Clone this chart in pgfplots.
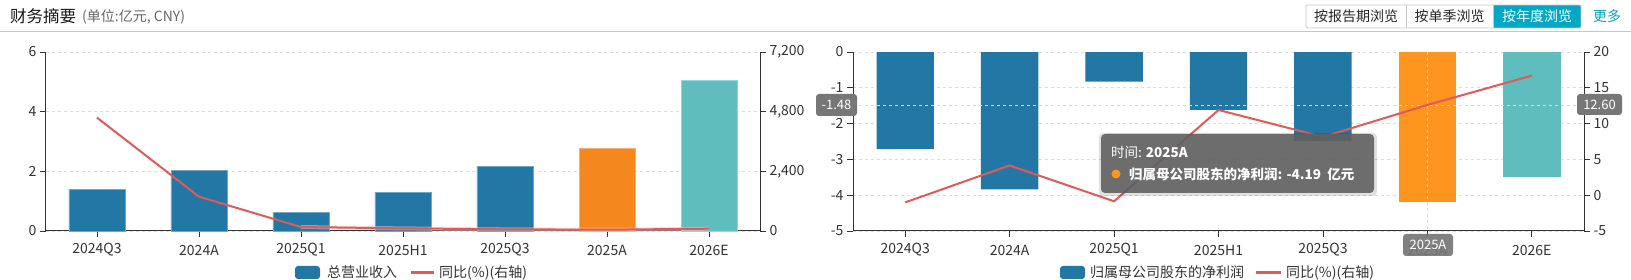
\documentclass[border=0pt]{standalone}
\usepackage{fontspec}
\setmainfont{Noto Sans CJK SC}
\usepackage{pgfplots}
\pgfplotsset{compat=1.18}
\definecolor{barblue}{HTML}{2377A4}
\definecolor{barorange}{HTML}{F5871F}
\definecolor{barorange2}{HTML}{FD951E}
\definecolor{barteal}{HTML}{5FBDBE}
\definecolor{linered}{HTML}{E05A5A}
\definecolor{gridc}{HTML}{DDDDDD}
\definecolor{axisc}{HTML}{333333}
\definecolor{txtc}{HTML}{333333}
\definecolor{crossc}{HTML}{D9D9D9}
\definecolor{tealbtn}{HTML}{00A8C6}
\definecolor{tealtxt}{HTML}{0A9FBF}
\definecolor{labgray}{HTML}{777777}
\pgfplotsset{
  common/.style={
    scale only axis, height=179pt,
    xmin=-0.5, xmax=6.5, xtick={0,...,6},
    tick align=outside, major tick length=6pt,
    tick style={color=axisc, line width=0.8pt},
    axis line style={color=axisc, line width=1pt, -},
    tick label style={font=\fontsize{14}{16}\selectfont, color=txtc},
    clip=false,
  },
  barax/.style={
    common,
    axis x line*=bottom, axis y line*=left,
    ymajorgrids, grid style={dashed, color=gridc, line width=0.8pt},
    xticklabels={2024Q3,2024A,2025Q1,2025H1,2025Q3,2025A,2026E},
    xticklabel style={anchor=center, yshift=-13pt},
  },
  lineax/.style={
    common,
    axis x line=none, axis y line*=right,
  },
}
\begin{document}
\begin{tikzpicture}[x=1pt,y=1pt]
\path[use as bounding box, fill=white] (0,0) rectangle (1631,280);
% header
\node[anchor=west, inner sep=0, font=\fontsize{16.5}{18}\selectfont, color=black!90] at (10,264) {财务摘要};
\node[anchor=west, inner sep=0, font=\fontsize{14}{16}\selectfont, color=black!60] at (82,263.5) {(单位:亿元, CNY)};
\draw[color=black!22, line width=1pt] (0,248) -- (1631,248);
% buttons
\fill[tealbtn] (1493,252) rectangle (1581,275);
\draw[color=black!22, line width=0.8pt, rounded corners=1.5pt] (1306,252) rectangle (1581,275);
\draw[color=black!22, line width=0.8pt] (1406,252) -- (1406,275) (1493,252) -- (1493,275);
\node[font=\fontsize{14}{16}\selectfont, color=black!85] at (1356,263.5) {按报告期浏览};
\node[font=\fontsize{14}{16}\selectfont, color=black!85] at (1449.5,263.5) {按单季浏览};
\node[font=\fontsize{14}{16}\selectfont, color=white] at (1537,263.5) {按年度浏览};
\node[font=\fontsize{14}{16}\selectfont, color=tealtxt] at (1607,263.5) {更多};

% ===== left chart =====
\begin{axis}[barax, at={(46pt,49pt)}, anchor=south west, width=714pt,
  ymin=0, ymax=6, ytick={0,2,4,6}, yticklabels={0,2,4,6}]
\addplot[ybar, bar width=0.55, bar shift=0pt, fill=barblue, draw=barblue!65!white, line width=0.6pt]
  coordinates {(0,1.40) (1,2.02) (2,0.63) (3,1.30) (4,2.17)};
\addplot[ybar, bar width=0.55, bar shift=0pt, fill=barorange, draw=barorange!65!white, line width=0.6pt]
  coordinates {(5,2.78)};
\addplot[ybar, bar width=0.55, bar shift=0pt, fill=barteal, draw=barteal!65!white, line width=0.6pt]
  coordinates {(6,5.05)};
\end{axis}
\begin{axis}[lineax, at={(46pt,49pt)}, anchor=south west, width=714pt,
  ymin=0, ymax=7200, ytick={0,2400,4800,7200}, yticklabels={0,{2,400},{4,800},{7,200}}]
\addplot[color=linered!35, line width=4pt, mark=none, opacity=0.5]
  coordinates {(2,160) (3,105) (4,68) (5,52) (6,92)};
\addplot[color=linered, line width=2pt, mark=none]
  coordinates {(0,4560) (1,1380) (2,160) (3,105) (4,68) (5,52) (6,92)};
\end{axis}

% ===== right chart =====
\begin{axis}[barax, at={(853pt,49pt)}, anchor=south west, width=731pt,
  ymin=-5, ymax=0, ytick={-5,-4,-3,-2,-1,0}, yticklabels={-5,-4,-3,-2,-1,0}]
\addplot[ybar, bar width=0.55, bar shift=0pt, fill=barblue, draw=none]
  coordinates {(0,-2.71) (1,-3.84) (2,-0.83) (3,-1.62) (4,-2.48)};
\addplot[ybar, bar width=0.55, bar shift=0pt, fill=barorange2, draw=none]
  coordinates {(5,-4.19)};
\addplot[ybar, bar width=0.55, bar shift=0pt, fill=barteal, draw=none]
  coordinates {(6,-3.49)};
\draw[dashed, color=crossc, line width=0.8pt] (axis cs:-0.5,-1.48) -- (axis cs:6.5,-1.48);
\draw[dashed, color=crossc, line width=0.8pt] (axis cs:5,0) -- (axis cs:5,-5);
\end{axis}
\begin{axis}[lineax, at={(853pt,49pt)}, anchor=south west, width=731pt,
  ymin=-5, ymax=20, ytick={-5,0,5,10,15,20}, yticklabels={-5,0,5,10,15,20}]
\addplot[color=linered, line width=2pt, mark=none]
  coordinates {(0,-1.0) (1,4.15) (2,-0.85) (3,11.9) (4,8.15) (5,12.6) (6,16.7)};
\end{axis}

% crosshair labels
\node[fill=labgray, rounded corners=3pt, text=white, font=\fontsize{13}{15}\selectfont, minimum width=41pt, minimum height=22pt, inner sep=1pt] at (836.5,175) {-1.48};
\node[fill=labgray, rounded corners=3pt, text=white, font=\fontsize{13}{15}\selectfont, minimum width=45pt, minimum height=21pt, inner sep=1pt] at (1599.5,175.5) {12.60};
\node[fill=labgray, rounded corners=3pt, text=white, font=\fontsize{13}{15}\selectfont, minimum width=50pt, minimum height=22pt, inner sep=1pt, fill opacity=0.92, text opacity=1] at (1428,35) {2025A};

% tooltip
\fill[black, opacity=0.12, rounded corners=4pt] (1099,84) rectangle (1377,147);
\fill[black!62, opacity=0.9, rounded corners=4pt] (1101,87) rectangle (1374,146);
\node[anchor=west, inner sep=0, text=white, font=\fontsize{13.5}{15}\selectfont] at (1111,128) {时间: \textbf{2025A}};
\fill[barorange2] (1116,106) circle (4.5);
\node[anchor=west, inner sep=0, text=white, font=\fontsize{13.5}{15}\selectfont\bfseries] at (1129,106) {归属母公司股东的净利润: -4.19 \ 亿元};

% legends
\fill[barblue, rounded corners=3pt] (295,1) rectangle (320,14);
\node[anchor=west, inner sep=0, font=\fontsize{14}{16}\selectfont, color=txtc] at (327,7.5) {总营业收入};
\draw[linered, line width=3pt] (411,7.5) -- (434,7.5);
\node[anchor=west, inner sep=0, font=\fontsize{14}{16}\selectfont, color=txtc] at (439,7.5) {同比(\%)(右轴)};
\fill[barblue, rounded corners=3pt] (1060,1) rectangle (1085,14);
\node[anchor=west, inner sep=0, font=\fontsize{14}{16}\selectfont, color=txtc] at (1090,7.5) {归属母公司股东的净利润};
\draw[linered, line width=3pt] (1256,7.5) -- (1281,7.5);
\node[anchor=west, inner sep=0, font=\fontsize{14}{16}\selectfont, color=txtc] at (1286,7.5) {同比(\%)(右轴)};
\end{tikzpicture}
\end{document}
